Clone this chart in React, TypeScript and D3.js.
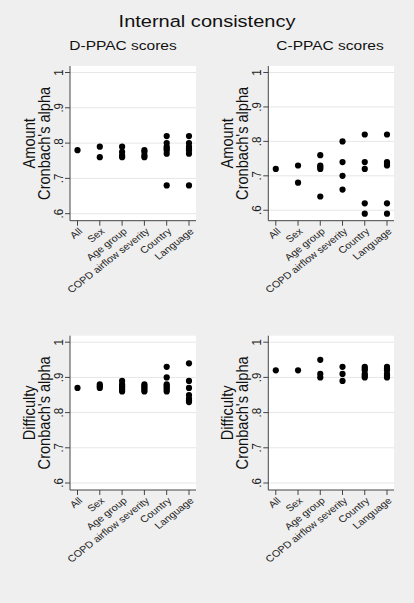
import React from "react";
import * as d3 from "d3";

const categories = ["All", "Sex", "Age group", "COPD airflow severity", "Country", "Language"];
const yTicks = [0.6, 0.7, 0.8, 0.9, 1];
const yTickLabels = [".6", ".7", ".8", ".9", "1"];

const dppacAmount = [
  [0.78],
  [0.79, 0.76],
  [0.79, 0.775, 0.765, 0.76],
  [0.78, 0.775, 0.765, 0.76],
  [0.82, 0.8, 0.79, 0.785, 0.78, 0.77, 0.68],
  [0.82, 0.8, 0.79, 0.785, 0.78, 0.77, 0.68],
];
const cppacAmount = [
  [0.72],
  [0.73, 0.68],
  [0.76, 0.73, 0.725, 0.72, 0.64],
  [0.8, 0.74, 0.7, 0.66],
  [0.82, 0.74, 0.72, 0.62, 0.59],
  [0.82, 0.74, 0.735, 0.73, 0.62, 0.59],
];
const dppacDifficulty = [
  [0.87],
  [0.88, 0.875, 0.87],
  [0.89, 0.88, 0.875, 0.87, 0.865, 0.86],
  [0.88, 0.875, 0.87, 0.865, 0.86],
  [0.93, 0.9, 0.88, 0.875, 0.87, 0.865, 0.86],
  [0.94, 0.89, 0.87, 0.85, 0.84, 0.835, 0.83],
];
const cppacDifficulty = [
  [0.92],
  [0.92],
  [0.95, 0.91, 0.9],
  [0.93, 0.91, 0.89],
  [0.93, 0.925, 0.92, 0.91, 0.905, 0.9],
  [0.93, 0.925, 0.92, 0.91, 0.905, 0.9],
];

const title = "Internal consistency";
const colTitles = ["D-PPAC scores", "C-PPAC scores"];
const rowTitles = ["Amount", "Difficulty"];
const yTitle = "Cronbach's alpha";

const W = 414;
const H = 603;
const SX = 1.15;
const FONT = "'Liberation Sans', Arial, Helvetica, sans-serif";
const cols = [
  { left: 70, right: 196, titleX: 123 },
  { left: 268.3, right: 394, titleX: 330 },
];
const rows = [
  { top: 66, bottom: 220.7 },
  { top: 335.7, bottom: 490 },
];
const panels = [
  { row: 0, col: 0, data: dppacAmount },
  { row: 0, col: 1, data: cppacAmount },
  { row: 1, col: 0, data: dppacDifficulty },
  { row: 1, col: 1, data: cppacDifficulty },
];

function Panel({ row, col, data }: { row: number; col: number; data: number[][] }) {
  const c = cols[col];
  const r = rows[row];
  const allVals = data.flat();
  const yMin = Math.min(0.6, d3.min(allVals) as number);
  const y = d3.scaleLinear().domain([yMin, 1]).range([r.bottom - 7, r.top + 6.5]);
  const x = d3.scalePoint<string>().domain(categories).range([c.left + 7.5, c.right - 7]);
  const cy = (r.top + r.bottom) / 2;
  return (
    <g>
      <rect x={c.left} y={r.top} width={c.right - c.left} height={r.bottom - r.top} fill="#ffffff" />
      {yTicks.map((t) => (
        <line key={"g" + t} x1={c.left} x2={c.right} y1={y(t)} y2={y(t)} stroke="#e6e6e6" strokeWidth={1} />
      ))}
      <line x1={c.left} x2={c.left} y1={r.top} y2={r.bottom} stroke="#444" strokeWidth={1} />
      <line x1={c.left} x2={c.right} y1={r.bottom} y2={r.bottom} stroke="#444" strokeWidth={1} />
      {yTicks.map((t, i) => (
        <g key={"t" + t}>
          <line x1={c.left - 5} x2={c.left} y1={y(t)} y2={y(t)} stroke="#444" strokeWidth={1} />
          <text
            transform={`translate(${c.left - 7},${y(t)}) scale(${SX},1) rotate(-90)`}
            textAnchor="middle"
            fontSize={11.5}
            fontFamily={FONT}
            fill="#222"
          >
            {yTickLabels[i]}
          </text>
        </g>
      ))}
      {categories.map((cat) => (
        <g key={"x" + cat}>
          <line x1={x(cat)} x2={x(cat)} y1={r.bottom} y2={r.bottom + 5} stroke="#444" strokeWidth={1} />
          <text
            transform={`translate(${(x(cat) as number) + 5.5},${r.bottom + 11.5}) scale(${SX},1) rotate(-42)`}
            textAnchor="end"
            fontSize={9.4}
            fontFamily={FONT}
            fill="#222"
          >
            {cat}
          </text>
        </g>
      ))}
      <text
        transform={`translate(${c.left - 41},${cy}) scale(${SX},1) rotate(-90)`}
        textAnchor="middle"
        dominantBaseline="central"
        fontSize={14.6}
        fontFamily={FONT}
        fill="#111"
      >
        {rowTitles[row]}
      </text>
      <text
        transform={`translate(${c.left - 26},${cy}) scale(${SX},1) rotate(-90)`}
        textAnchor="middle"
        dominantBaseline="central"
        fontSize={14.6}
        fontFamily={FONT}
        fill="#111"
      >
        {yTitle}
      </text>
      {data.map((vals, i) =>
        vals.map((v, j) => (
          <circle key={i + "-" + j} cx={x(categories[i])} cy={y(v)} r={3.1} fill="#000" />
        ))
      )}
    </g>
  );
}

export default function App() {
  return (
    <svg
      width={W}
      height={H}
      viewBox={`0 0 ${W} ${H}`}
      style={{ position: "absolute", left: 0, top: 0, display: "block" }}
    >
      <rect x={0} y={0} width={W} height={H} fill="#efefef" />
      <text
        transform={`translate(207,27) scale(${SX},1)`}
        textAnchor="middle"
        fontSize={17.4}
        fontFamily={FONT}
        fill="#111"
      >
        {title}
      </text>
      {cols.map((c, i) => (
        <text
          key={i}
          transform={`translate(${c.titleX},49.5) scale(${SX},1)`}
          textAnchor="middle"
          fontSize={13.5}
          fontFamily={FONT}
          fill="#111"
        >
          {colTitles[i]}
        </text>
      ))}
      {panels.map((p, i) => (
        <Panel key={i} row={p.row} col={p.col} data={p.data} />
      ))}
    </svg>
  );
}
